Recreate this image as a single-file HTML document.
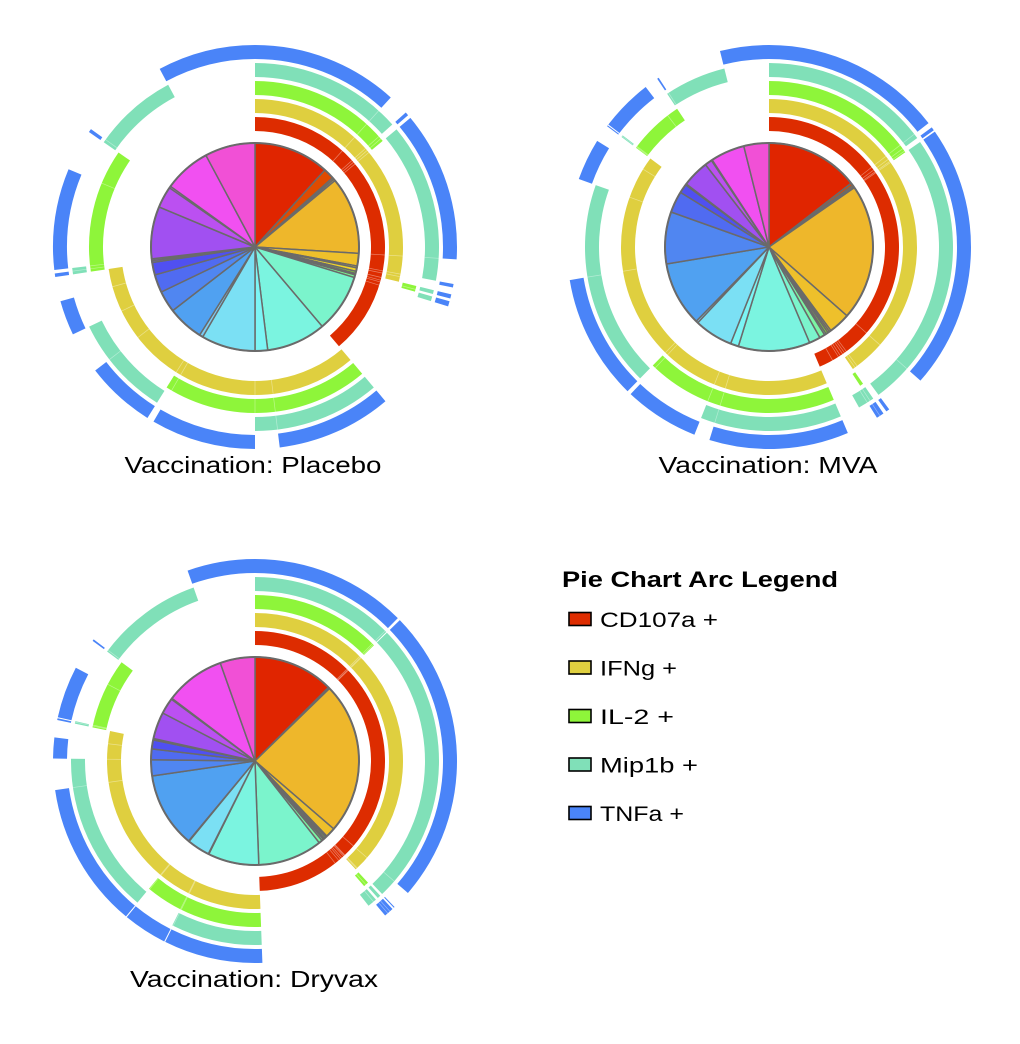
<!DOCTYPE html>
<html><head><meta charset="utf-8">
<style>
html,body{margin:0;padding:0;background:#fff;}
svg{display:block;font-family:"Liberation Sans",sans-serif;}
</style></head>
<body>
<svg id="chart" width="1020" height="1044" viewBox="0 0 1020 1044" xmlns="http://www.w3.org/2000/svg">
<g id="pies"></g>
<g id="legend">
  <text x="562" y="587" font-size="22" font-weight="bold" textLength="276" lengthAdjust="spacingAndGlyphs">Pie Chart Arc Legend</text>
</g>
</svg>
<script>
// Slice order: bit patterns 11111 .. 00001 (CD107a, IFNg, IL-2, Mip1b, TNFa)
const markers = ["CD107a +", "IFNg +", "IL-2 +", "Mip1b +", "TNFa +"];
const markerColors = ["#dd2c00", "#dfcf3f", "#8ef53a", "#80e0b8", "#4a84f8"];
const panelTitles = ["Vaccination: Placebo", "Vaccination: MVA", "Vaccination: Dryvax"];
const placeboValues = [42,6,1,1,43,7,1,2,1.2,0,0,0.8,1.5,0,0,32.5, 33,7,30,2,20,12,10,7, 1,1,29,12,1,26,28];
const mvaValues = [52,1.5,1,0.5,76,12,1,1,1.2,0,0,0,1,3,0,6.3, 40,4.5,21.5,1.2,36,29,12,5, 0.3,0.3,15,4,0.5,19,14];
const dryvaxValues = [45,0.5,0,0.3,85,5.5,0.3,0.5,1,0,0.8,0,1,2,0,36, 28.5,0.3,12.7,0.3,42,9,6,5, 0.5,0.3,15,9,0.5,33.5,19.5];

const NS = "http://www.w3.org/2000/svg";
const panels = [
  {cx:255, cy:247, tx:253, ty:473, tw:257, values:placeboValues},
  {cx:769, cy:247, tx:768, ty:473, tw:219, values:mvaValues},
  {cx:255, cy:761, tx:254, ty:987, tw:248, values:dryvaxValues}
];
const PIE_R = 104;
const RING_IN = [116,134,152,170,188];
const RING_W = 14;

function sliceColor(i){
  let h = 10 + i*10;
  if(i>=3 && i<=7) h = 40 + (i-3)*3;
  let l = i<=2 ? 44 : (i<=8 ? 55 : (i<=19 ? 72 : 63));
  let s = i<=2 ? 100 : 85;
  return `hsl(${h},${s}%,${l}%)`;
}
function pt(cx,cy,r,a){ const t=a*Math.PI/180; return [cx+r*Math.sin(t), cy-r*Math.cos(t)]; }
function wedge(cx,cy,r,a0,a1){
  const p0=pt(cx,cy,r,a0), p1=pt(cx,cy,r,a1), large=(a1-a0)>180?1:0;
  return `M${cx},${cy}L${p0[0]},${p0[1]}A${r},${r} 0 ${large} 1 ${p1[0]},${p1[1]}Z`;
}
function annulus(cx,cy,r0,r1,a0,a1){
  const large=(a1-a0)>180?1:0;
  const a=pt(cx,cy,r1,a0), b=pt(cx,cy,r1,a1), c=pt(cx,cy,r0,a1), d=pt(cx,cy,r0,a0);
  return `M${a[0]},${a[1]}A${r1},${r1} 0 ${large} 1 ${b[0]},${b[1]}L${c[0]},${c[1]}A${r0},${r0} 0 ${large} 0 ${d[0]},${d[1]}Z`;
}
const root = document.getElementById("pies");
panels.forEach((p, pi) => {
  const g = document.createElementNS(NS,"g");
  
  
  root.appendChild(g);
  const total = p.values.reduce((s,v)=>s+v,0);
  const starts=[], ends=[];
  let acc=0;
  p.values.forEach(v=>{ starts.push(acc/total*360); acc+=v; ends.push(acc/total*360); });
  p.values.forEach((v,i)=>{
    if(v<=0) return;
    const path=document.createElementNS(NS,"path");
    
    
    path.setAttribute("d", wedge(p.cx,p.cy,PIE_R,starts[i],ends[i]));
    path.setAttribute("fill", sliceColor(i));
    path.setAttribute("stroke","#6a6a6a");
    path.setAttribute("stroke-width","1.5");
    path.setAttribute("stroke-linejoin","round");
    g.appendChild(path);
  });
  const circ=document.createElementNS(NS,"circle");
  
  
  circ.setAttribute("cx",p.cx); circ.setAttribute("cy",p.cy); circ.setAttribute("r",PIE_R);
  circ.setAttribute("fill","none"); circ.setAttribute("stroke","#6a6a6a"); circ.setAttribute("stroke-width","2");
  g.appendChild(circ);
  markers.forEach((m,mi)=>{
    const bit = 4-mi;
    let runStart=-1;
    for(let i=0;i<=p.values.length;i++){
      const pattern = 31-i;
      const on = i<p.values.length && ((pattern>>bit)&1)===1 && p.values[i]>0;
      const skip = i<p.values.length && p.values[i]<=0;
      if(skip) continue;
      if(on && runStart<0) runStart=i;
      if(!on && runStart>=0){
        let last=i-1; while(p.values[last]<=0) last--;
        const a0=starts[runStart], a1=ends[last];
        const arc=document.createElementNS(NS,"path");
        
        
        arc.setAttribute("d", annulus(p.cx,p.cy,RING_IN[mi],RING_IN[mi]+RING_W,a0,a1));
        arc.setAttribute("fill", markerColors[mi]);
        g.appendChild(arc);
        for(let k=runStart;k<last;k++){
          if(p.values[k]<=0) continue;
          const q0=pt(p.cx,p.cy,RING_IN[mi],ends[k]), q1=pt(p.cx,p.cy,RING_IN[mi]+RING_W,ends[k]);
          const ln=document.createElementNS(NS,"line");
          
          
          ln.setAttribute("x1",q0[0]);ln.setAttribute("y1",q0[1]);ln.setAttribute("x2",q1[0]);ln.setAttribute("y2",q1[1]);
          ln.setAttribute("stroke","rgba(255,255,255,0.4)");ln.setAttribute("stroke-width","0.7");
          g.appendChild(ln);
        }
        runStart=-1;
      }
    }
  });
  const t=document.createElementNS(NS,"text");
  
  
  t.setAttribute("x",p.tx); t.setAttribute("y",p.ty); t.setAttribute("text-anchor","middle");
  t.setAttribute("font-size","23"); t.setAttribute("textLength",p.tw); t.setAttribute("lengthAdjust","spacingAndGlyphs");
  t.textContent = panelTitles[pi];
  g.appendChild(t);
});
const legend=document.getElementById("legend");
const legendWidths=[118,77,74,98,84];
markers.forEach((m,i)=>{
  const y=619+i*48.5;
  const eg=document.createElementNS(NS,"g");
  
  
  const r=document.createElementNS(NS,"rect");
  
  
  r.setAttribute("x",569);r.setAttribute("y",y-6.5);r.setAttribute("width",22);r.setAttribute("height",13);
  r.setAttribute("fill",markerColors[i]);r.setAttribute("stroke","#000");r.setAttribute("stroke-width","1.6");
  eg.appendChild(r);
  const t=document.createElementNS(NS,"text");
  
  
  t.setAttribute("x",600);t.setAttribute("y",y+8);t.setAttribute("font-size","21");
  t.setAttribute("textLength",legendWidths[i]);t.setAttribute("lengthAdjust","spacingAndGlyphs");
  t.textContent=m;
  eg.appendChild(t);
  legend.appendChild(eg);
});
</script>
</body></html>
